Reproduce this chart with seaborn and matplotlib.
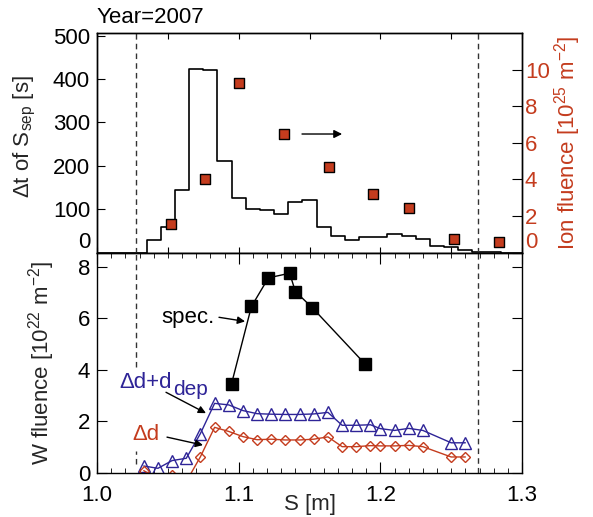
import numpy as np
import pandas as pd
import matplotlib
matplotlib.use("Agg")
import matplotlib.pyplot as plt
import seaborn as sns
from matplotlib.ticker import MultipleLocator

# ---------------- data ----------------
hist_edges = [1.000, 1.035, 1.045, 1.055, 1.065, 1.075, 1.085, 1.095, 1.105, 1.115,
              1.125, 1.135, 1.145, 1.155, 1.165, 1.175, 1.185, 1.195, 1.205, 1.215,
              1.225, 1.235, 1.245, 1.255, 1.265, 1.275, 1.285, 1.300]
hist_dt = [0, 30, 60, 145, 422, 420, 210, 125, 100, 98,
           90, 117, 121, 60, 38, 28, 37, 35, 42, 39,
           31, 16, 12, 6, 2, 1, 0, 0]

ion_s = [1.052, 1.076, 1.100, 1.132, 1.164, 1.195, 1.220, 1.252, 1.284]
ion_fluence = [1.57, 4.0, 9.24, 6.46, 4.69, 3.2, 2.44, 0.73, 0.6]

spec_s = [1.095, 1.109, 1.121, 1.136, 1.140, 1.152, 1.189]
spec_w = [3.46, 6.45, 7.56, 7.74, 7.03, 6.40, 4.23]

calc_s = [1.033, 1.043, 1.053, 1.063, 1.073, 1.083, 1.093, 1.103, 1.113, 1.123,
          1.133, 1.143, 1.153, 1.163, 1.173, 1.183, 1.193, 1.200, 1.210, 1.220,
          1.230, 1.250, 1.260]
w_dd_dep = [0.26, 0.17, 0.47, 0.56, 1.52, 2.69, 2.63, 2.41, 2.29, 2.27,
            2.26, 2.26, 2.28, 2.34, 1.84, 1.84, 1.86, 1.71, 1.64, 1.72,
            1.64, 1.16, 1.16]
w_dd = [0.08, -0.25, -0.10, -0.35, 0.62, 1.76, 1.60, 1.40, 1.28, 1.30,
        1.27, 1.27, 1.30, 1.39, 1.01, 1.01, 1.05, 1.04, 1.04, 1.06,
        1.01, 0.61, 0.61]

sep_lines = [1.0275, 1.2687]
title_text = "Year=2007"

# ---------------- style ----------------
sns.set_style("ticks")
plt.rcParams["font.family"] = ["Liberation Sans", "DejaVu Sans"]
plt.rcParams["mathtext.fontset"] = "custom"
plt.rcParams["mathtext.rm"] = "Liberation Sans"
plt.rcParams["mathtext.it"] = "Liberation Sans:italic"
plt.rcParams["mathtext.default"] = "regular"
plt.rcParams["axes.edgecolor"] = "black"
plt.rcParams["axes.linewidth"] = 1.0
plt.rcParams["xtick.color"] = "black"
plt.rcParams["ytick.color"] = "black"
plt.rcParams["text.color"] = "black"

RED = "#C43C1E"
BLUE = "#2E2497"
FS = 16

fig = plt.figure(figsize=(5.93, 5.17), dpi=100)
ax1 = fig.add_axes([0.1636, 0.5114, 0.7167, 0.4248])
ax2 = fig.add_axes([0.1636, 0.0857, 0.7167, 0.4257])
ax1r = ax1.twinx()

# ---------------- top panel ----------------
sns.lineplot(x=hist_edges, y=hist_dt, drawstyle="steps-post", color="black",
             lw=1.2, ax=ax1, estimator=None, sort=False)
sns.scatterplot(x=ion_s, y=ion_fluence, marker="s", s=60, color=RED,
                edgecolor="black", linewidth=1.0, ax=ax1r, zorder=5)

for xv in sep_lines:
    ax1.axvline(xv, ls=(0, (4, 3)), color="#333333", lw=1)

ax1.set_xlim(1.0, 1.3)
ax1.set_ylim(0, 506)
ax1r.set_ylim(0, 12)
ax1.xaxis.set_major_locator(MultipleLocator(0.05))
ax1.tick_params(axis="x", which="major", direction="in", top=True, bottom=True,
                length=4, labelbottom=False)
ax1.set_yticks([0, 100, 200, 300, 400, 500])
ax1.tick_params(axis="y", direction="in", left=True, right=False, length=6,
                labelsize=FS, pad=5)
ax1r.set_yticks([0, 2, 4, 6, 8, 10])
ax1r.tick_params(axis="y", direction="in", length=7, labelcolor=RED,
                 labelsize=FS, pad=2)
ax1.yaxis.get_major_ticks()[0].label1.set_verticalalignment("bottom")
ax1r.yaxis.get_major_ticks()[0].label2.set_verticalalignment("bottom")

ax1.set_ylabel("Δt of S$_{sep}$ [s]", fontsize=FS)
ax1.yaxis.set_label_coords(-0.14, 0.53)
ax1r.set_ylabel("Ion fluence [10$^{25}$ m$^{-2}$]", fontsize=FS, color=RED)
ax1r.yaxis.set_label_coords(1.07, 0.5)
ax1.set_title(title_text, loc="left", fontsize=FS, pad=7)

ax1r.annotate("", xy=(1.173, 6.48), xytext=(1.1447, 6.48),
              arrowprops=dict(arrowstyle="-|>", color="black", lw=1,
                              mutation_scale=12, shrinkA=0, shrinkB=0))

# ---------------- bottom panel ----------------
sns.lineplot(x=calc_s, y=w_dd_dep, color=BLUE, lw=1, marker="^", markersize=8,
             markerfacecolor="none", markeredgecolor=BLUE, markeredgewidth=1,
             ax=ax2, estimator=None, sort=False)
sns.lineplot(x=calc_s, y=w_dd, color=RED, lw=1, marker="D", markersize=5.5,
             markerfacecolor="none", markeredgecolor=RED, markeredgewidth=1,
             ax=ax2, estimator=None, sort=False)
sns.lineplot(x=spec_s, y=spec_w, color="black", lw=1, marker="s", markersize=8.5,
             markerfacecolor="black", markeredgecolor="black", markeredgewidth=1,
             ax=ax2, estimator=None, sort=False)

ax2.axvline(sep_lines[0], ymin=0.48, ymax=1, ls=(0, (4, 3)), color="#333333", lw=1)
ax2.axvline(sep_lines[0], ymin=0.04, ymax=0.10, ls=(0, (4, 3)), color="#333333", lw=1)
ax2.axvline(sep_lines[1], ls=(0, (4, 3)), color="#333333", lw=1)

ax2.set_xlim(1.0, 1.3)
ax2.set_ylim(0, 8.54)
ax2.set_xticks([1.0, 1.1, 1.2, 1.3])
ax2.set_xticklabels(["1.0", "1.1", "1.2", "1.3"])
ax2.xaxis.set_minor_locator(MultipleLocator(0.01))
ax2.tick_params(axis="x", which="major", direction="in", top=True, bottom=True,
                length=8, labelsize=FS, pad=9)
ax2.tick_params(axis="x", which="minor", direction="in", top=True, bottom=True,
                length=3.5)
ax2.set_yticks([0, 2, 4, 6, 8])
ax2.tick_params(axis="y", direction="in", left=True, right=True, length=7,
                labelsize=FS, pad=5)

ax2.set_ylabel("W fluence [10$^{22}$ m$^{-2}$]", fontsize=FS)
ax2.yaxis.set_label_coords(-0.095, 0.5)
ax2.set_xlabel("S [m]", fontsize=FS)
ax2.xaxis.set_label_coords(0.5, -0.095)

arrow_kw = dict(arrowstyle="-|>", color="black", lw=1, mutation_scale=11,
                shrinkA=0, shrinkB=0)
ax2.text(1.0452, 5.80, "spec.", fontsize=FS, va="baseline")
ax2.annotate("", xy=(1.1045, 5.87), xytext=(1.0861, 6.03), arrowprops=arrow_kw)

ax2.text(1.0155, 3.27, "Δd+d", fontsize=FS, color=BLUE, va="baseline")
ax2.text(1.0535, 3.01, "dep", fontsize=FS - 1, color=BLUE, va="baseline")
ax2.annotate("", xy=(1.0769, 2.31), xytext=(1.0487, 3.12), arrowprops=arrow_kw)

ax2.text(1.0252, 1.27, "Δd", fontsize=FS, color=RED, va="baseline")
ax2.annotate("", xy=(1.0748, 1.07), xytext=(1.0494, 1.38), arrowprops=arrow_kw)

fig.savefig("out.png", dpi=100)
